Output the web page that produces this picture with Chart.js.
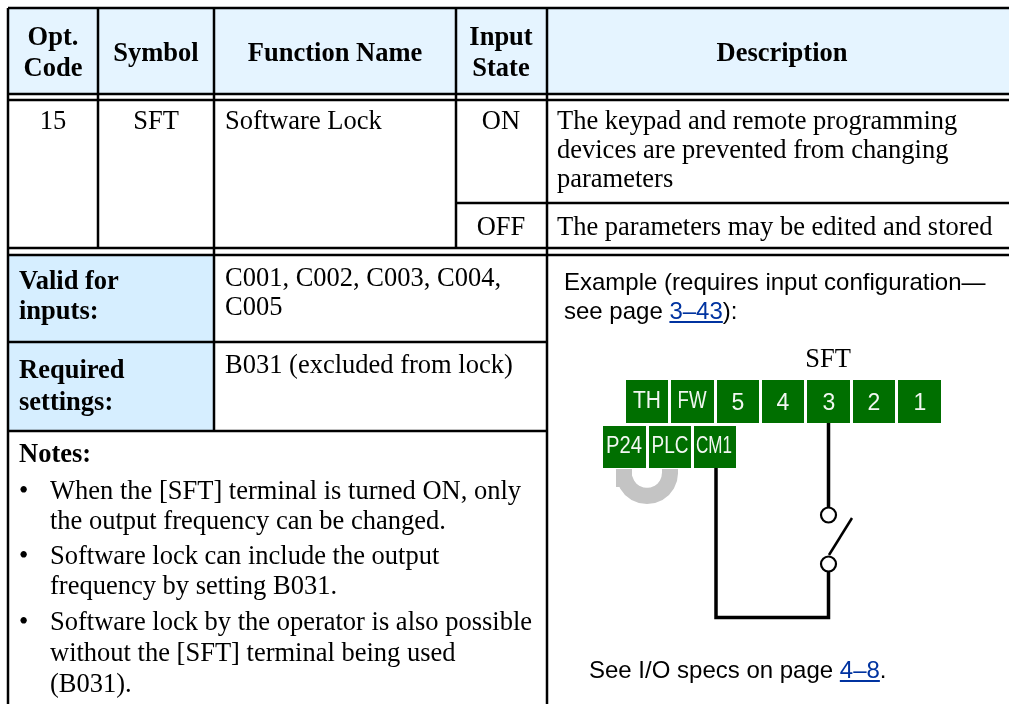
<!DOCTYPE html>
<html><head><meta charset="utf-8">
<style>html,body{margin:0;padding:0;background:#fff}canvas{display:block}</style>
<script src="https://cdn.jsdelivr.net/npm/chart.js@4/dist/chart.umd.min.js"></script>
</head><body><canvas id="c" width="1009" height="704"></canvas>
<script>
const headerLabels = [["Opt.","Code"],["Symbol"],["Function Name"],["Input","State"],["Description"]];
const rowCells = ["15","SFT","Software Lock","ON","OFF"];
const descOn = ["The keypad and remote programming","devices are prevented from changing","parameters"];
const descOff = "The parameters may be edited and stored";
const validLabel = ["Valid for","inputs:"];
const validValue = ["C001, C002, C003, C004,","C005"];
const requiredLabel = ["Required","settings:"];
const requiredValue = "B031 (excluded from lock)";
const notesTitle = "Notes:";
const notesLines = ["When the [SFT] terminal is turned ON, only","the output frequency can be changed.","Software lock can include the output","frequency by setting B031.","Software lock by the operator is also possible","without the [SFT] terminal being used","(B031)."];
const exampleText = ["Example (requires input configuration—","see page "];
const exampleLink = "3–43";
const specText = "See I/O specs on page ";
const specLink = "4–8";
const topTerminals = ["TH","FW","5","4","3","2","1"];
const bottomTerminals = ["P24","PLC","CM1"];
const switchLabel = "SFT";

const SERIF='"Liberation Serif"', SANS='"Liberation Sans"';
const BLACK='#000', HEAD='#E5F4FF', CELL='#D6EEFF', GREEN='#006F00', LINK='#0033A0';
const layers=[];
function rect(x0,y0,x1,y1,c){layers.push({data:[{x:x0,y:y0},{x:x1,y:y0},{x:x1,y:y1},{x:x0,y:y1},{x:x0,y:y0}],showLine:true,fill:'shape',backgroundColor:c,borderWidth:0,borderColor:'transparent',pointRadius:0});}
function line(pts,w,c){layers.push({data:pts.map(p=>({x:p[0],y:p[1]})),showLine:true,fill:false,borderColor:c||BLACK,borderWidth:w||2.5,pointRadius:0,borderCapStyle:'butt',borderJoinStyle:'miter'});}
function dot(x,y){layers.push({data:[{x,y}],showLine:false,pointRadius:7.5,pointBackgroundColor:'#fff',pointBorderColor:BLACK,pointBorderWidth:2.2});}

// fills
rect(8,8,1009,94,HEAD);
rect(8,255,214,342,CELL);
rect(8,342,214,431,CELL);
// terminals
const topX=[[626,668],[671,714],[717,759],[762,804],[807,850],[853,895],[898,941]];
const botX=[[603,646],[649,691],[694,736]];
topX.forEach(a=>rect(a[0],380,a[1],423,GREEN));
botX.forEach(a=>rect(a[0],426,a[1],468,GREEN));
// jumper
line([[670,469],[670,473],[669.2,479],[666.9,484.5],[663.3,489.3],[658.5,492.9],[653,495.2],[647,496],[641,495.2],[635.5,492.9],[630.7,489.3],[627.1,484.5],[624.8,479],[624,473],[624,469]],16,'#C4C4C4');
// wires
line([[716,468],[716,617.5],[828.5,617.5],[828.5,572]],3.5);
line([[828.5,423],[828.5,507]],3.5);
line([[829,555],[852,518]],2.5);
dot(828.5,515);dot(828.5,564);
// table rules
[8,94,100,248,255].forEach(y=>line([[8,y],[1009,y]]));
line([[456,203],[1009,203]]);
line([[8,342],[547,342]]);
line([[8,431],[547,431]]);
line([[8,8],[8,704]]);
line([[98,8],[98,248]]);
line([[214,8],[214,431]]);
line([[456,8],[456,248]]);
line([[547,8],[547,704]]);

const texts=[];
function T(s,x,y,font,opt){texts.push(Object.assign({s,x,y,font},opt||{}));}
const H='bold 26.5px '+SERIF, B='26.5px '+SERIF, S='24px '+SANS;
const hx=[53,156,335,501,782], hy=[[45,76],[61],[61],[45,76],[61]];
headerLabels.forEach((ls,i)=>ls.forEach((l,j)=>T(l,hx[i],hy[i][j],H,{a:'center'})));
T(rowCells[0],53,129,B,{a:'center'});T(rowCells[1],156,129,B,{a:'center'});
T(rowCells[2],225,129,B);T(rowCells[3],501,129,B,{a:'center'});T(rowCells[4],501,235,B,{a:'center'});
[129,158,187].forEach((y,i)=>T(descOn[i],557,y,B));
T(descOff,557,235,B);
validLabel.forEach((l,i)=>T(l,19,[289,319][i],H));
requiredLabel.forEach((l,i)=>T(l,19,[378,410][i],H));
validValue.forEach((l,i)=>T(l,225,[286,315][i],B));
T(requiredValue,225,373,B);
T(notesTitle,19,462,H);
const ny=[499,529,564,594,630,661,692];
notesLines.forEach((l,i)=>T(l,50,ny[i],B));
[499,564,630].forEach(y=>T("•",19,y,B));
T(exampleText[0],564,290,S);
T(exampleText[1],564,319,S,{link:exampleLink,tail:"):"});
T(switchLabel,828,367,B,{a:'center'});
const topCx=[647,692,738,783,829,874,920], topMw=[28,29,40,40,40,40,40], tb=[408,408,410,410,410,410,410];
const botCx=[624,670,714], botMw=[36,37,36];
const TF='23px '+SANS, TC='#F2F7F2';
topTerminals.forEach((l,i)=>T(l,topCx[i],tb[i],TF,{a:'center',c:TC,mw:topMw[i]}));
bottomTerminals.forEach((l,i)=>T(l,botCx[i],453,TF,{a:'center',c:TC,mw:botMw[i]}));
T(specText,589,678,S,{link:specLink,tail:"."});

const textPlugin={id:'textPlugin',afterDatasetsDraw(chart){
  const ctx=chart.ctx,sx=chart.scales.x,sy=chart.scales.y;
  ctx.save();ctx.textBaseline='alphabetic';
  texts.forEach(t=>{
    const x=sx.getPixelForValue(t.x),y=sy.getPixelForValue(t.y);
    ctx.font=t.font;ctx.textAlign=t.a||'left';ctx.fillStyle=t.c||'#000';
    if(t.mw)ctx.fillText(t.s,x,y,t.mw);else ctx.fillText(t.s,x,y);
    if(t.link){
      const w=ctx.measureText(t.s).width,lw=ctx.measureText(t.link).width;
      ctx.fillStyle=LINK;ctx.fillText(t.link,x+w,y);
      ctx.fillRect(x+w,y+2,lw,2);
      ctx.fillStyle='#000';ctx.fillText(t.tail,x+w+lw,y);
    }
  });
  ctx.restore();
}};
new Chart(document.getElementById('c'),{
  type:'scatter',
  data:{datasets:layers.slice().reverse()},
  options:{responsive:false,animation:false,events:[],devicePixelRatio:1,
    layout:{padding:0,autoPadding:false},
    elements:{line:{tension:0}},
    plugins:{legend:{display:false},tooltip:{enabled:false},title:{display:false}},
    scales:{x:{type:'linear',display:false,min:0,max:1009},y:{type:'linear',display:false,reverse:true,min:0,max:704}}},
  plugins:[textPlugin]
});
</script></body></html>
